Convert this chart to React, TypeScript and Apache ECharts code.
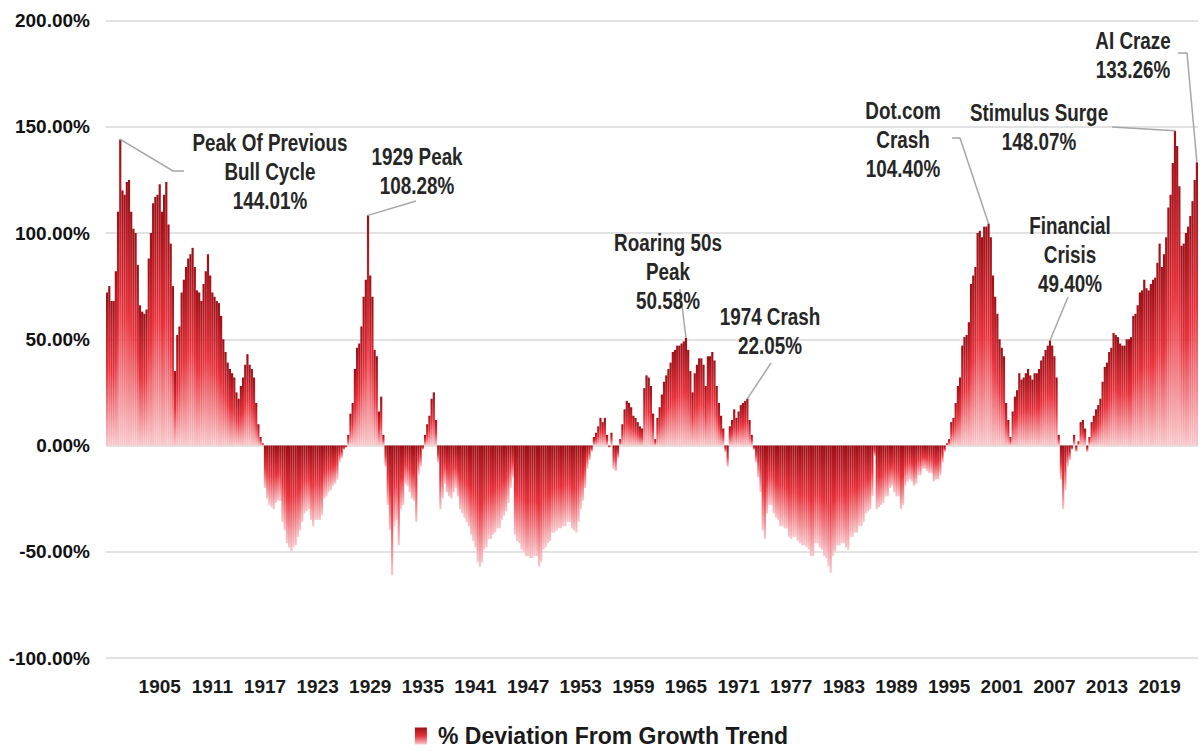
import React, { useEffect, useRef } from "react";
import * as echarts from "echarts";

// Quarterly series, first bar = START_YEAR Q1
const START_YEAR = 1899;
const SERIES_NAME = "% Deviation From Growth Trend";
const TICK_YEARS = [1905, 1911, 1917, 1923, 1929, 1935, 1941, 1947, 1953, 1959, 1965, 1971, 1977, 1983, 1989, 1995, 2001, 2007, 2013, 2019];

const deviation: number[] = [
  72, 75, 68, 68, // 1899
  82, 110, 144.01, 120, // 1900
  118, 124, 125, 110, // 1901
  102, 100, 85, 66, // 1902
  63, 62, 64, 88, // 1903
  100, 114, 117, 118, // 1904
  123, 110, 118, 124, // 1905
  104, 95, 75, 35, // 1906
  52, 56, 72, 78, // 1907
  84, 88, 90, 93, // 1908
  84, 73, 72, 68, // 1909
  76, 82, 90, 80, // 1910
  72, 70, 68, 67, // 1911
  61, 50, 44, 39, // 1912
  36, 34, 32, 25, // 1913
  22, 28, 32, 38, // 1914
  43, 38, 36, 32, // 1915
  20, 10, 4, 1, // 1916
  -20, -25, -28, -29, // 1917
  -30, -27, -26, -26, // 1918
  -36, -40, -46, -48, // 1919
  -50, -48, -47, -43, // 1920
  -40, -36, -32, -31, // 1921
  -30, -35, -38, -35, // 1922
  -35, -35, -33, -25, // 1923
  -24, -22, -21, -19, // 1924
  -18, -16, -8, -6, // 1925
  -2, -1, 5, 15, // 1926
  20, 36, 46, 48, // 1927
  56, 70, 78, 108.28, // 1928
  80, 70, 45, 42, // 1929
  16, 23, 5, -10, // 1930
  -28, -40, -61, -38, // 1931
  -35, -47, -30, -28, // 1932
  -18, -19, -22, -25, // 1933
  -26, -36, -14, -10, // 1934
  -2, 5, 10, 14, // 1935
  22, 25, 12, -8, // 1936
  -30, -25, -18, -22, // 1937
  -24, -25, -22, -20, // 1938
  -24, -30, -32, -34, // 1939
  -36, -38, -42, -45, // 1940
  -48, -55, -57, -55, // 1941
  -49, -48, -44, -44, // 1942
  -42, -41, -39, -39, // 1943
  -35, -33, -31, -27, // 1944
  -20, -15, -42, -45, // 1945
  -46, -49, -50, -52, // 1946
  -52, -53, -53, -52, // 1947
  -52, -57, -55, -49, // 1948
  -48, -46, -45, -41, // 1949
  -41, -40, -39, -39, // 1950
  -38, -38, -36, -36, // 1951
  -39, -40, -41, -36, // 1952
  -30, -26, -20, -11, // 1953
  -7, -3, 4, 6, // 1954
  9, 13, 11, 13, // 1955
  5, -1, 6, -11, // 1956
  -12, -6, 3, 10, // 1957
  17, 21, 20, 18, // 1958
  14, 13, 11, 9, // 1959
  8, 27, 33, 32, // 1960
  28, 15, 3, 13, // 1961
  18, 24, 30, 33, // 1962
  36, 39, 44, 45, // 1963
  47, 47, 48, 49, // 1964
  50.58, 45, 35, 25, // 1965
  34, 38, 41, 41, // 1966
  38, 28, 42, 42, // 1967
  44, 40, 28, 20, // 1968
  14, 8, -3, -10, // 1969
  9, 12, 17, 13, // 1970
  16, 19, 20, 21, // 1971
  22.05, 12, 5, -2, // 1972
  -8, -15, -22, -40, // 1973
  -44, -32, -28, -28, // 1974
  -32, -34, -35, -38, // 1975
  -38, -39, -39, -43, // 1976
  -44, -43, -43, -45, // 1977
  -46, -47, -47, -48, // 1978
  -49, -52, -52, -46, // 1979
  -46, -48, -49, -52, // 1980
  -53, -57, -60, -52, // 1981
  -50, -47, -47, -46, // 1982
  -46, -48, -49, -43, // 1983
  -43, -41, -41, -38, // 1984
  -38, -36, -32, -31, // 1985
  -30, -24, -5, -30, // 1986
  -29, -28, -27, -24, // 1987
  -24, -20, -19, -22, // 1988
  -24, -24, -30, -28, // 1989
  -19, -17, -16, -17, // 1990
  -19, -18, -14, -14, // 1991
  -11, -11, -12, -13, // 1992
  -13, -17, -16, -16, // 1993
  -14, -8, -3, 1, // 1994
  3, 11, 13, 20, // 1995
  28, 32, 47, 51, // 1996
  52, 58, 76, 80, // 1997
  84, 100, 101, 98, // 1998
  103, 103, 104.4, 98, // 1999
  80, 70, 62, 50, // 2000
  46, 42, 20, 12, // 2001
  4, 16, 23, 26, // 2002
  34, 31, 32, 34, // 2003
  36, 33, 31, 34, // 2004
  34, 36, 40, 42, // 2005
  45, 47, 49.4, 47, // 2006
  42, 32, 5, -16, // 2007
  -30, -21, -10, -7, // 2008
  -2, 5, -3, 2, // 2009
  11, 12, 8, -3, // 2010
  4, 11, 14, 17, // 2011
  19, 22, 30, 37, // 2012
  39, 44, 46, 53, // 2013
  52, 51, 48, 47, // 2014
  47, 50, 50, 51, // 2015
  61, 62, 66, 72, // 2016
  73, 78, 74, 73, // 2017
  76, 78, 79, 86, // 2018
  95, 84, 90, 98, // 2019
  112, 118, 133, 148.07, // 2020
  141, 122, 94, 95, // 2021
  100, 103, 108, 115, // 2022
  125, 133.26, // 2023
];

const categories: string[] = deviation.map((_, i) => `${START_YEAR + Math.floor(i / 4)} Q${(i % 4) + 1}`);

// annotated peaks: value (found in the series) and the text lines
const PEAK_VALUES = [144.01, 108.28, 50.58, 22.05, 104.4, 148.07, 49.4, 133.26];
const PEAK_TEXTS = [
  ["Peak Of Previous", "Bull Cycle", "144.01%"],
  ["1929 Peak", "108.28%"],
  ["Roaring 50s", "Peak", "50.58%"],
  ["1974 Crash", "22.05%"],
  ["Dot.com", "Crash", "104.40%"],
  ["Stimulus Surge", "148.07%"],
  ["Financial", "Crisis", "49.40%"],
  ["AI Craze", "133.26%"],
];

// layout of the annotation texts (block centre) and leader-line elbows, in pixels
const LAYOUT = [
  { cx: 270, cy: 172, elbows: [[184, 171], [173, 171]] },
  { cx: 417, cy: 171.5, elbows: [[416, 201]] },
  { cx: 668, cy: 271.5, elbows: [[680, 289]] },
  { cx: 770, cy: 331.5, elbows: [[771, 363]] },
  { cx: 903, cy: 140, elbows: [[952, 138], [960, 138]] },
  { cx: 1039, cy: 127, elbows: [[1112, 127]] },
  { cx: 1070, cy: 254.5, elbows: [[1068, 297]] },
  { cx: 1133, cy: 55, elbows: [[1178, 53], [1187, 53]] },
];

const FONT = "'Liberation Sans', Arial, sans-serif";

export default function App() {
  const ref = useRef<HTMLDivElement>(null);
  useEffect(() => {
    const el = ref.current;
    if (!el) return;
    const chart = echarts.init(el, null, { renderer: "svg" });
    const gradient = new echarts.graphic.LinearGradient(0, 0, 0, 1, [
      { offset: 0, color: "#9c0f16" },
      { offset: 0.5, color: "#e8323c" },
      { offset: 1, color: "#f8c9cc" },
    ]);
    chart.setOption({
      animation: false,
      backgroundColor: "#ffffff",
      grid: { left: 106, right: 5, top: 20.5, bottom: 93, containLabel: false },
      legend: {
        top: 719,
        left: "center",
        padding: 5,
        icon: "rect",
        itemWidth: 12,
        itemHeight: 17,
        itemGap: 10,
        data: [SERIES_NAME],
        textStyle: { fontSize: 23, lineHeight: 24, fontWeight: "bold", fontFamily: FONT, color: "#1a1a1a", padding: [0, 0, 0, 6] },
      },
      xAxis: {
        type: "category",
        data: categories,
        boundaryGap: true,
        axisLine: { show: false, onZero: false },
        axisTick: { show: false },
        splitLine: { show: false },
        axisLabel: {
          interval: (_i: number, v: string) => v.endsWith("Q1") && TICK_YEARS.includes(parseInt(v.slice(0, 4), 10)),
          formatter: (v: string) => v.slice(0, 4),
          margin: 19,
          fontSize: 19,
          fontWeight: "bold",
          fontFamily: FONT,
          color: "#1a1a1a",
        },
      },
      yAxis: {
        type: "value",
        min: -100,
        max: 200,
        interval: 50,
        axisLine: { show: false },
        axisTick: { show: false },
        splitLine: { lineStyle: { color: "#d9d9d9", width: 1.5 } },
        axisLabel: {
          formatter: (v: number) => v.toFixed(2) + "%",
          margin: 16,
          fontSize: 19,
          fontWeight: "bold",
          fontFamily: FONT,
          color: "#111111",
        },
      },
      series: [
        {
          type: "bar",
          name: SERIES_NAME,
          data: deviation,
          barCategoryGap: "0%",
          barGap: "0%",
          itemStyle: { color: gradient },
          emphasis: { disabled: true },
        },
      ],
    });

    const graphics: any[] = [];
    PEAK_VALUES.forEach((val, k) => {
      const idx = deviation.indexOf(val);
      const p = chart.convertToPixel({ xAxisIndex: 0, yAxisIndex: 0 }, [idx, val]) as number[];
      const lay = LAYOUT[k];
      const pts = [...lay.elbows, [p[0], p[1]]];
      graphics.push({
        type: "polyline",
        shape: { points: pts },
        style: { stroke: "#a6a6a6", lineWidth: 1.5, fill: null },
        silent: true,
        z: 10,
      });
      graphics.push({
        type: "text",
        x: lay.cx,
        y: lay.cy,
        scaleX: 0.82,
        style: {
          text: PEAK_TEXTS[k].join("\n"),
          align: "center",
          verticalAlign: "middle",
          fontSize: 23,
          lineHeight: 29,
          fontWeight: "bold",
          fontFamily: FONT,
          fill: "#262626",
        },
        silent: true,
        z: 11,
      });
    });
    chart.setOption({ graphic: graphics });
    return () => chart.dispose();
  }, []);
  return <div ref={ref} style={{ position: "fixed", left: 0, top: 0, width: 1203, height: 751 }} />;
}
